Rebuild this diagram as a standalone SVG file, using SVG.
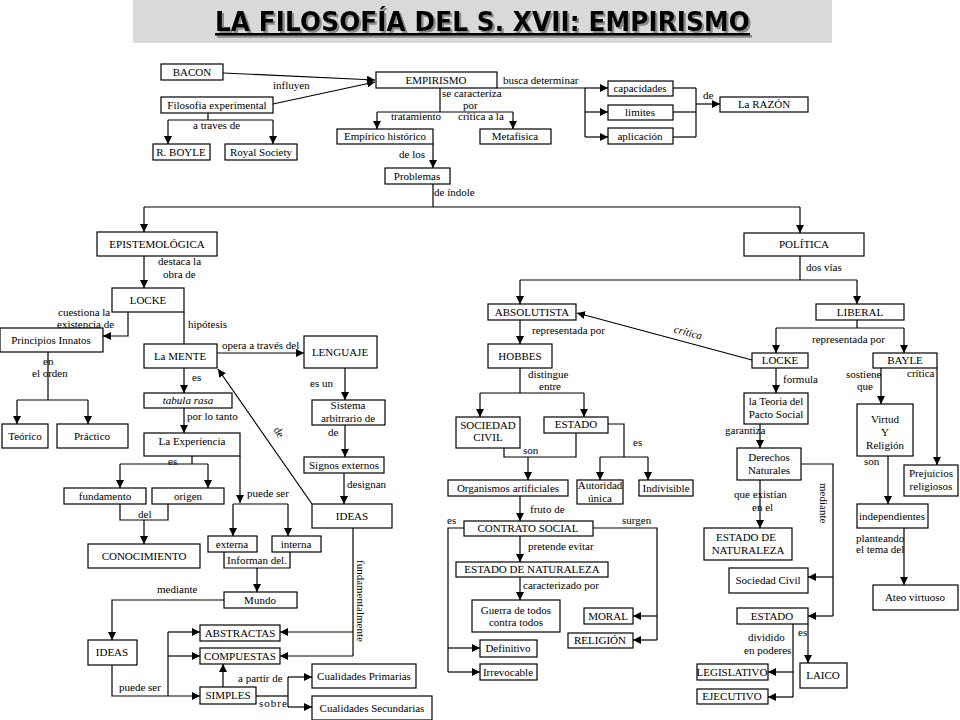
<svg xmlns="http://www.w3.org/2000/svg" width="960" height="720" viewBox="0 0 960 720">
<defs>
<marker id="a" viewBox="0 0 10 10" refX="10" refY="5" markerWidth="8" markerHeight="8" orient="auto" markerUnits="userSpaceOnUse"><path d="M0,0 L10,5 L0,10 z" fill="#000"/></marker>
<filter id="sh" x="-5%" y="-20%" width="110%" height="150%">
<feOffset in="SourceAlpha" dx="2" dy="2" result="o"/>
<feFlood flood-color="#8a8a8a"/>
<feComposite in2="o" operator="in" result="s"/>
<feMerge><feMergeNode in="s"/><feMergeNode in="SourceGraphic"/></feMerge>
</filter>
<style>
.n rect{fill:#fff;stroke:#000;stroke-width:1.2}
.n text{font-family:"Liberation Serif","Times New Roman",serif;font-size:11px;text-anchor:middle;fill:#000}
.c path{fill:none;stroke:#000;stroke-width:1.2}
.c path.r{marker-end:url(#a)}
.l text{font-family:"Liberation Serif","Times New Roman",serif;font-size:11px;fill:#000}
.t{font-family:"DejaVu Sans","Liberation Sans",sans-serif;font-weight:bold;font-size:27px;text-decoration:underline}
</style>
</defs>
<rect width="960" height="720" fill="#fff"/>
<g id="title">
<rect x="133" y="0" width="699" height="43" fill="#d9d9d9"/>
<text class="t" x="215" y="31" fill="#000" filter="url(#sh)" textLength="535" lengthAdjust="spacingAndGlyphs">LA FILOSOFÍA DEL S. XVII: EMPIRISMO</text>
</g>
<g class="c" id="connectors">
<path class="r" d="M223,73 L375,80"/>
<path class="r" d="M273,104 L375,82"/>
<path d="M208,113 V120"/><path d="M168,120 H273"/>
<path class="r" d="M168,120 V144"/><path class="r" d="M273,120 V144"/>
<path d="M440,88 V112"/><path d="M377,112 H513"/>
<path class="r" d="M377,112 V129"/><path class="r" d="M513,112 V129"/>
<path class="r" d="M433,144 V168"/>
<path d="M433,184 V207"/><path d="M144,207 H800"/>
<path class="r" d="M144,207 V232"/><path class="r" d="M800,207 V233"/>
<path d="M497,88 H585 V137"/>
<path class="r" d="M585,88 H608"/><path class="r" d="M585,112 H608"/><path class="r" d="M585,137 H608"/>
<path d="M673,88 H696"/><path d="M673,112 H696"/><path d="M673,137 H696"/><path d="M696,88 V137"/>
<path class="r" d="M696,104 H720"/>
<path class="r" d="M144,256 V288"/>
<path class="r" d="M128,312 V336 H103"/>
<path d="M48,352 V400"/><path d="M17,400 H88"/>
<path class="r" d="M17,400 V424"/><path class="r" d="M88,400 V424"/>
<path d="M184,312 V344"/>
<path class="r" d="M217,353 H304"/>
<path class="r" d="M184,368 V393"/>
<path class="r" d="M184,408 V433"/>
<path class="r" d="M345,368 V400"/>
<path class="r" d="M345,425 V457"/>
<path class="r" d="M344,473 V504"/>
<path class="r" d="M312,504 L218,369"/>
<path d="M192,456 V464"/><path d="M120,464 H208"/>
<path class="r" d="M120,464 V488"/><path class="r" d="M208,464 V488"/>
<path d="M120,504 V520 H168 V504"/>
<path class="r" d="M144,520 V544"/>
<path class="r" d="M240,456 V503"/>
<path d="M233,504 H288"/>
<path class="r" d="M233,504 V536"/><path class="r" d="M288,504 V536"/>
<path d="M224,552 V568 H290 V552"/>
<path class="r" d="M257,568 V592"/>
<path class="r" d="M224,600 H112 V640"/>
<path class="r" d="M112,665 V696 H200"/>
<path d="M168,696 V632"/>
<path class="r" d="M168,632 H200"/><path class="r" d="M168,656 H200"/>
<path class="r" d="M223,687 V664"/>
<path d="M256,696 H288"/><path d="M288,677 V707"/>
<path class="r" d="M288,677 H312"/><path class="r" d="M288,707 H312"/>
<path d="M353,528 V656"/>
<path class="r" d="M353,632 H280"/><path class="r" d="M353,656 H280"/>
<path d="M800,256 V280"/><path d="M520,280 H857"/>
<path class="r" d="M520,280 V304"/><path class="r" d="M857,280 V304"/>
<path d="M857,320 V328"/><path d="M776,328 H904"/>
<path class="r" d="M776,328 V353"/><path class="r" d="M904,328 V353"/>
<path class="r" d="M752,360 L577,313"/>
<path class="r" d="M520,320 V344"/>
<path d="M520,368 V393"/><path d="M480,393 H584"/>
<path class="r" d="M480,393 V417"/><path class="r" d="M584,393 V417"/>
<path d="M504,448 V457 H576 V433"/>
<path class="r" d="M528,457 V480"/>
<path d="M608,424 H624 V457"/><path d="M600,457 H648"/>
<path class="r" d="M600,457 V480"/><path class="r" d="M648,457 V480"/>
<path class="r" d="M520,496 V521"/>
<path d="M464,528 H448 V672"/>
<path class="r" d="M448,648 H480"/><path class="r" d="M448,672 H480"/>
<path d="M593,528 H657 V640"/>
<path class="r" d="M657,616 H633"/><path class="r" d="M657,640 H633"/>
<path class="r" d="M520,536 V562"/>
<path class="r" d="M520,577 V600"/>
<path class="r" d="M776,368 V393"/>
<path class="r" d="M760,424 V448"/>
<path class="r" d="M760,480 V528"/>
<path d="M801,464 H833 V616"/>
<path class="r" d="M833,577 H808"/><path class="r" d="M833,616 H808"/>
<path d="M793,624 V697"/>
<path class="r" d="M793,672 H768"/><path class="r" d="M793,697 H768"/>
<path class="r" d="M808,624 V663"/>
<path class="r" d="M881,368 V404"/>
<path class="r" d="M937,368 V465"/>
<path class="r" d="M888,456 V504"/>
<path class="r" d="M904,528 V585"/>
</g>
<g class="l" id="labels" font-family="Liberation Serif, serif">
<text x="273" y="89">influyen</text>
<text x="193" y="129">a traves de</text>
<text x="442" y="97">se caracteriza</text>
<text x="463" y="109">por</text>
<text x="391" y="120">tratamiento</text>
<text x="458" y="120">crítica a la</text>
<text x="399" y="158">de los</text>
<text x="434" y="196">de índole</text>
<text x="503" y="84">busca determinar</text>
<text x="703" y="99">de</text>
<text x="158" y="265">destaca la</text>
<text x="163" y="278">obra de</text>
<text x="58" y="316">cuestiona la</text>
<text x="57" y="328">existencia de</text>
<text x="43" y="365">en</text>
<text x="32" y="377">el orden</text>
<text x="188" y="328">hipótesis</text>
<text x="222" y="349">opera a través del</text>
<text x="192" y="381">es</text>
<text x="187" y="420">por lo tanto</text>
<text x="310" y="387">es un</text>
<text x="328" y="436">de</text>
<text x="273" y="434" transform="rotate(58 277 432)">de</text>
<text x="168" y="465">es</text>
<text x="138" y="518">del</text>
<text x="247" y="497">puede ser</text>
<text x="347" y="488">designan</text>
<text x="257" y="564" text-anchor="middle">Informan del.</text>
<text x="157" y="593">mediante</text>
<text x="357" y="560" transform="rotate(90 357 560)">fundamentalmente</text>
<text x="119" y="691">puede ser</text>
<text x="238" y="682">a partir de</text>
<text x="259" y="707" letter-spacing="1">sobre</text>
<text x="806" y="271">dos vías</text>
<text x="532" y="334">representada por</text>
<text x="688" y="336" text-anchor="middle" font-style="italic" transform="rotate(15 688 333)">crítica</text>
<text x="812" y="343">representada por</text>
<text x="528" y="378">distingue</text>
<text x="539" y="390">entre</text>
<text x="523" y="454">son</text>
<text x="633" y="446">es</text>
<text x="530" y="513">fruto de</text>
<text x="447" y="524">es</text>
<text x="622" y="524">surgen</text>
<text x="528" y="550">pretende evitar</text>
<text x="523" y="589">caracterizado por</text>
<text x="783" y="383">formula</text>
<text x="725" y="434">garantiza</text>
<text x="734" y="498">que existían</text>
<text x="752" y="511">en el</text>
<text x="820" y="483" transform="rotate(90 820 483)">mediante</text>
<text x="748" y="641">dividido</text>
<text x="744" y="654">en poderes</text>
<text x="798" y="636">es</text>
<text x="846" y="378">sostiene</text>
<text x="857" y="390">que</text>
<text x="907" y="377">crítica</text>
<text x="864" y="465">son</text>
<text x="856" y="542">planteando</text>
<text x="856" y="553">el tema del</text>
</g>
<g class="n" id="n-bacon"><rect x="161" y="64" width="62" height="16"/><text x="192" y="76">BACON</text></g>
<g class="n" id="n-empirismo"><rect x="376" y="72" width="121" height="16"/><text x="436" y="84">EMPIRISMO</text></g>
<g class="n" id="n-filosofia"><rect x="161" y="97" width="112" height="16"/><text x="217" y="109">Filosofia experimental</text></g>
<g class="n" id="n-boyle"><rect x="153" y="144" width="57" height="16"/><text x="181" y="156">R. BOYLE</text></g>
<g class="n" id="n-royal"><rect x="225" y="144" width="72" height="16"/><text x="261" y="156">Royal Society</text></g>
<g class="n" id="n-empirico"><rect x="337" y="129" width="96" height="15"/><text x="385" y="140">Empírico histórico</text></g>
<g class="n" id="n-metafisica"><rect x="480" y="129" width="71" height="15"/><text x="515" y="140">Metafisica</text></g>
<g class="n" id="n-problemas"><rect x="385" y="168" width="65" height="16"/><text x="417" y="180">Problemas</text></g>
<g class="n" id="n-capacidades"><rect x="608" y="81" width="65" height="15"/><text x="640" y="92">capacidades</text></g>
<g class="n" id="n-limites"><rect x="608" y="105" width="65" height="15"/><text x="640" y="116">limites</text></g>
<g class="n" id="n-aplicacion"><rect x="608" y="128" width="65" height="16"/><text x="640" y="140">aplicación</text></g>
<g class="n" id="n-razon"><rect x="720" y="97" width="88" height="15"/><text x="764" y="108">La RAZÓN</text></g>
<g class="n" id="n-epistemologica"><rect x="97" y="232" width="120" height="24"/><text x="157" y="248">EPISTEMOLÓGICA</text></g>
<g class="n" id="n-locke1"><rect x="112" y="288" width="72" height="24"/><text x="148" y="304">LOCKE</text></g>
<g class="n" id="n-principios"><rect x="0" y="328" width="103" height="24"/><text x="51" y="344">Principios Innatos</text></g>
<g class="n" id="n-teorico"><rect x="2" y="424" width="46" height="24"/><text x="25" y="440">Teórico</text></g>
<g class="n" id="n-practico"><rect x="57" y="424" width="71" height="24"/><text x="92" y="440">Práctico</text></g>
<g class="n" id="n-mente"><rect x="144" y="344" width="73" height="24"/><text x="180" y="360">La MENTE</text></g>
<g class="n" id="n-lenguaje"><rect x="304" y="336" width="73" height="32"/><text x="340" y="356">LENGUAJE</text></g>
<g class="n" id="n-tabula"><rect x="144" y="393" width="88" height="15"/><text x="188" y="404" font-style="italic">tabula rasa</text></g>
<g class="n" id="n-sistema"><rect x="312" y="400" width="73" height="25"/><text x="348" y="409">Sistema</text><text x="348" y="422">arbitrario de</text></g>
<g class="n" id="n-experiencia"><rect x="144" y="433" width="96" height="23"/><text x="192" y="445">La Experiencia</text></g>
<g class="n" id="n-signos"><rect x="304" y="457" width="80" height="16"/><text x="344" y="469">Signos externos</text></g>
<g class="n" id="n-fundamento"><rect x="64" y="488" width="82" height="16"/><text x="105" y="500">fundamento</text></g>
<g class="n" id="n-origen"><rect x="152" y="488" width="72" height="16"/><text x="188" y="500">origen</text></g>
<g class="n" id="n-ideas2"><rect x="312" y="504" width="80" height="24"/><text x="352" y="520">IDEAS</text></g>
<g class="n" id="n-conocimiento"><rect x="88" y="544" width="112" height="24"/><text x="144" y="560">CONOCIMIENTO</text></g>
<g class="n" id="n-externa"><rect x="208" y="536" width="49" height="16"/><text x="232" y="548">externa</text></g>
<g class="n" id="n-interna"><rect x="272" y="536" width="49" height="16"/><text x="296" y="548">interna</text></g>
<g class="n" id="n-mundo"><rect x="224" y="592" width="73" height="16"/><text x="260" y="604">Mundo</text></g>
<g class="n" id="n-ideas1"><rect x="88" y="640" width="49" height="25"/><text x="112" y="656">IDEAS</text></g>
<g class="n" id="n-abstractas"><rect x="200" y="625" width="80" height="16"/><text x="240" y="637">ABSTRACTAS</text></g>
<g class="n" id="n-compuestas"><rect x="200" y="648" width="80" height="16"/><text x="240" y="660">COMPUESTAS</text></g>
<g class="n" id="n-simples"><rect x="200" y="687" width="56" height="17"/><text x="228" y="699">SIMPLES</text></g>
<g class="n" id="n-primarias"><rect x="312" y="664" width="104" height="24"/><text x="364" y="680">Cualidades Primarias</text></g>
<g class="n" id="n-secundarias"><rect x="312" y="696" width="120" height="24"/><text x="372" y="712">Cualidades Secundarias</text></g>
<g class="n" id="n-politica"><rect x="744" y="233" width="120" height="23"/><text x="804" y="248">POLÍTICA</text></g>
<g class="n" id="n-absolutista"><rect x="488" y="304" width="88" height="16"/><text x="532" y="316">ABSOLUTISTA</text></g>
<g class="n" id="n-liberal"><rect x="816" y="304" width="88" height="16"/><text x="860" y="316">LIBERAL</text></g>
<g class="n" id="n-hobbes"><rect x="488" y="344" width="64" height="24"/><text x="520" y="360">HOBBES</text></g>
<g class="n" id="n-locke2"><rect x="752" y="353" width="56" height="15"/><text x="780" y="364">LOCKE</text></g>
<g class="n" id="n-bayle"><rect x="873" y="353" width="64" height="15"/><text x="905" y="364">BAYLE</text></g>
<g class="n" id="n-sociedadcivil"><rect x="456" y="417" width="64" height="31"/><text x="488" y="429">SOCIEDAD</text><text x="488" y="441">CIVIL</text></g>
<g class="n" id="n-estado1"><rect x="544" y="417" width="64" height="16"/><text x="576" y="428">ESTADO</text></g>
<g class="n" id="n-organismos"><rect x="448" y="480" width="120" height="16"/><text x="508" y="492">Organismos artificiales</text></g>
<g class="n" id="n-autoridad"><rect x="577" y="480" width="46" height="24"/><text x="600" y="489">Autoridad</text><text x="600" y="502">única</text></g>
<g class="n" id="n-indivisible"><rect x="639" y="480" width="54" height="16"/><text x="666" y="492">Indivisible</text></g>
<g class="n" id="n-contrato"><rect x="464" y="521" width="129" height="15"/><text x="528" y="532">CONTRATO SOCIAL</text></g>
<g class="n" id="n-edn1"><rect x="456" y="562" width="152" height="15"/><text x="532" y="573">ESTADO DE NATURALEZA</text></g>
<g class="n" id="n-guerra"><rect x="472" y="600" width="88" height="32"/><text x="516" y="614">Guerra de todos</text><text x="516" y="626">contra todos</text></g>
<g class="n" id="n-moral"><rect x="584" y="608" width="49" height="16"/><text x="608" y="620">MORAL</text></g>
<g class="n" id="n-religion"><rect x="568" y="633" width="65" height="15"/><text x="600" y="644">RELIGIÓN</text></g>
<g class="n" id="n-definitivo"><rect x="480" y="640" width="57" height="17"/><text x="508" y="652">Definitivo</text></g>
<g class="n" id="n-irrevocable"><rect x="480" y="664" width="57" height="16"/><text x="508" y="676">Irrevocable</text></g>
<g class="n" id="n-teoria"><rect x="744" y="393" width="64" height="31"/><text x="776" y="405">la Teoria del</text><text x="776" y="418">Pacto Social</text></g>
<g class="n" id="n-derechos"><rect x="737" y="448" width="64" height="32"/><text x="769" y="461">Derechos</text><text x="769" y="474">Naturales</text></g>
<g class="n" id="n-edn2"><rect x="704" y="528" width="88" height="32"/><text x="746" y="541">ESTADO DE</text><text x="748" y="554">NATURALEZA</text></g>
<g class="n" id="n-sociedadcivil2"><rect x="729" y="568" width="79" height="25"/><text x="768" y="584">Sociedad Civil</text></g>
<g class="n" id="n-estado2"><rect x="737" y="608" width="71" height="16"/><text x="772" y="620">ESTADO</text></g>
<g class="n" id="n-legislativo"><rect x="697" y="664" width="71" height="16"/><text x="732" y="676">LEGISLATIVO</text></g>
<g class="n" id="n-ejecutivo"><rect x="697" y="689" width="71" height="15"/><text x="732" y="700">EJECUTIVO</text></g>
<g class="n" id="n-laico"><rect x="800" y="663" width="47" height="25"/><text x="823" y="679">LAICO</text></g>
<g class="n" id="n-virtud"><rect x="857" y="404" width="56" height="52"/><text x="885" y="423">Virtud</text><text x="885" y="436">Y</text><text x="885" y="449">Religión</text></g>
<g class="n" id="n-prejuicios"><rect x="904" y="465" width="54" height="31"/><text x="931" y="477">Prejuicios</text><text x="931" y="490">religiosos</text></g>
<g class="n" id="n-independientes"><rect x="857" y="504" width="71" height="24"/><text x="892" y="520">independientes</text></g>
<g class="n" id="n-ateo"><rect x="873" y="585" width="85" height="25"/><text x="915" y="601">Ateo virtuoso</text></g>
</svg>
